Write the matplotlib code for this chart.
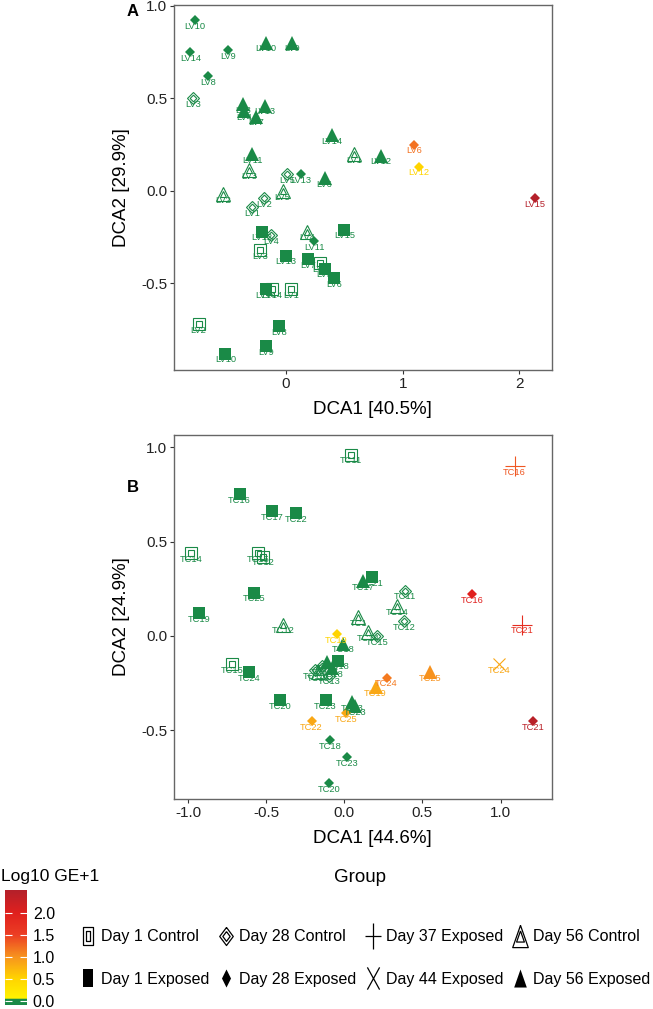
import numpy as np
import matplotlib
matplotlib.use('Agg')
from matplotlib import pyplot as plt
from matplotlib.colors import LinearSegmentedColormap, Normalize
from matplotlib.lines import Line2D
from matplotlib.path import Path
from matplotlib.legend_handler import HandlerTuple

plt.rcParams['font.family'] = ['Liberation Sans', 'DejaVu Sans']
plt.rcParams['axes.unicode_minus'] = False

# ---- panel A (LV samples) ----
a_lab = ['LV10', 'LV14', 'LV9', 'LV8', 'LV13', 'LV11', 'LV15', 'LV6', 'LV12',
         'LV10', 'LV9', 'LV3', 'LV4', 'LV7', 'LV13', 'LV14', 'LV11', 'LV12', 'LV6',
         'LV1', 'LV3', 'LV2', 'LV5', 'LV4',
         'LV3', 'LV5', 'LV2', 'LV1', 'LV4',
         'LV15', 'LV12', 'LV13', 'LV7', 'LV5', 'LV6', 'LV14', 'LV8', 'LV9', 'LV10',
         'LV3', 'LV4', 'LV14', 'LV1', 'LV2']
a_x = [-0.78, -0.82, -0.50, -0.67, 0.13, 0.24, 2.13, 1.10, 1.14,
       -0.17, 0.05, -0.37, -0.36, -0.26, -0.18, 0.39, -0.29, 0.81, 0.33,
       0.58, -0.32, -0.54, -0.03, 0.18,
       -0.80, 0.01, -0.19, -0.29, -0.13,
       0.50, -0.21, 0.00, 0.19, 0.33, 0.41, -0.17, -0.06, -0.17, -0.52,
       -0.22, 0.29, -0.12, 0.04, -0.75]
a_y = [0.92, 0.75, 0.76, 0.62, 0.09, -0.27, -0.04, 0.25, 0.13,
       0.80, 0.80, 0.47, 0.43, 0.40, 0.46, 0.30, 0.20, 0.19, 0.07,
       0.20, 0.11, -0.02, 0.00, -0.22,
       0.50, 0.09, -0.04, -0.09, -0.24,
       -0.21, -0.22, -0.35, -0.37, -0.42, -0.47, -0.53, -0.73, -0.84, -0.88,
       -0.32, -0.39, -0.53, -0.53, -0.72]
a_grp = ['D28E'] * 9 + ['D56E'] * 10 + ['D56C'] * 5 + ['D28C'] * 5 + ['D1E'] * 10 + ['D1C'] * 5
a_ge = [0, 0, 0, 0, 0, 0, 2.5, 1.2, 0.5] + [0] * 35

# ---- panel B (TC samples) ----
b_lab = ['TC16', 'TC17', 'TC22', 'TC21', 'TC25', 'TC19', 'TC24', 'TC18', 'TC23', 'TC20',
         'TC11', 'TC14', 'TC15', 'TC12', 'TC15',
         'TC17', 'TC18', 'TC14', 'TC18', 'TC13', 'TC23', 'TC19', 'TC25',
         'TC12', 'TC1', 'TC14', 'TC14', 'TC13',
         'TC11', 'TC12', 'TC15', 'TC13', 'TC13', 'TC14',
         'TC16', 'TC21', 'TC24', 'TC19', 'TC22', 'TC25', 'TC18', 'TC23', 'TC20',
         'TC16', 'TC21', 'TC24']
b_x = [-0.67, -0.46, -0.31, 0.18, -0.58, -0.93, -0.61, -0.04, -0.12, -0.41,
       0.04, -0.98, -0.55, -0.52, -0.72,
       0.12, -0.01, -0.11, -0.08, 0.05, 0.07, 0.20, 0.55,
       -0.39, 0.09, 0.15, 0.34, -0.17,
       0.39, 0.38, 0.21, -0.19, -0.10, -0.14,
       0.82, 1.21, 0.27, -0.05, -0.21, 0.01, -0.09, 0.02, -0.10,
       1.09, 1.14, 0.99]
b_y = [0.75, 0.66, 0.65, 0.31, 0.23, 0.12, -0.19, -0.13, -0.34, -0.34,
       0.96, 0.44, 0.44, 0.42, -0.15,
       0.29, -0.04, -0.14, -0.17, -0.35, -0.37, -0.27, -0.19,
       0.06, 0.10, 0.02, 0.16, -0.19,
       0.24, 0.08, 0.00, -0.18, -0.21, -0.16,
       0.22, -0.45, -0.22, 0.01, -0.45, -0.41, -0.55, -0.64, -0.78,
       0.90, 0.06, -0.15]
b_grp = (['D1E'] * 10 + ['D1C'] * 5 + ['D56E'] * 8 + ['D56C'] * 5 + ['D28C'] * 6
         + ['D28E'] * 9 + ['D37E'] * 2 + ['D44E'])
b_ge = ([0] * 21 + [0.85, 1.0] + [0] * 11
        + [2.0, 2.45, 1.15, 0.5, 0.85, 0.85, 0, 0, 0]
        + [1.35, 1.8, 0.85])

groups = ['D1C', 'D1E', 'D28C', 'D28E', 'D37E', 'D44E', 'D56C', 'D56E']
group_names = ['Day 1 Control', 'Day 1 Exposed', 'Day 28 Control', 'Day 28 Exposed',
               'Day 37 Exposed', 'Day 44 Exposed', 'Day 56 Control', 'Day 56 Exposed']

cb_ticks = [0.0, 0.5, 1.0, 1.5, 2.0]

GREEN = '#1A8A47'
vmin, vmax = -0.1, 2.53
stops = [(-0.1, GREEN), (0.03, GREEN), (0.05, '#FFF200'), (0.5, '#FFD400'),
         (1.0, '#F7931E'), (1.5, '#EC3F24'), (2.0, '#E0201E'), (2.53, '#B3202A')]
cmap = LinearSegmentedColormap.from_list(
    'ge', [((v - vmin) / (vmax - vmin), c) for v, c in stops])
norm = Normalize(vmin, vmax)

# marker: list of (marker, size pt, filled, lw)
STYLE = {
    'D1C': [('s', 8.6, False, 0.8), ('s', 4.2, False, 0.8)],
    'D1E': [('s', 8.4, True, 0)],
    'D28C': [('D', 6.6, False, 0.8), ('D', 3.4, False, 0.8)],
    'D28E': [('D', 5.2, True, 0)],
    'D37E': [('+', 14, False, 0.8)],
    'D44E': [('x', 9, False, 0.8)],
    'D56C': [('^', 10, False, 0.8), ('^', 5, False, 0.8)],
    'D56E': [('^', 9.5, True, 0)],
}

# taller shapes used in the legend keys
M, L = Path.MOVETO, Path.LINETO
rect = Path([(-0.5, -1), (0.5, -1), (0.5, 1), (-0.5, 1), (-0.5, -1)])
tri = Path([(0, 1), (-0.7, -1), (0.7, -1), (0, 1)])
dia = Path([(0, 1), (0.75, 0), (0, -1), (-0.75, 0), (0, 1)])
thin_dia = Path([(0, 1), (0.5, 0), (0, -1), (-0.5, 0), (0, 1)])
plus = Path([(-0.6, 0), (0.6, 0), (0, -1), (0, 1)], [M, L, M, L])
cross = Path([(-0.55, -1), (0.55, 1), (-0.55, 1), (0.55, -1)], [M, L, M, L])
LEG = {
    'D1C': [(rect, 13, False), (rect, 7, False)],
    'D1E': [(rect, 13, True)],
    'D28C': [(dia, 13, False), (dia, 7, False)],
    'D28E': [(thin_dia, 13, True)],
    'D37E': [(plus, 19, False)],
    'D44E': [(cross, 16, False)],
    'D56C': [(tri, 16, False), (tri, 8, False)],
    'D56E': [(tri, 13, True)],
}


def draw_panel(ax, labs, xs, ys, grps, ges):
    for lab, x, y, g, v in zip(labs, xs, ys, grps, ges):
        col = cmap(norm(v))
        for mk, ms, filled, lw in STYLE[g]:
            if filled:
                ax.plot(x, y, marker=mk, ms=ms, color=col, mec=col, mew=0, ls='none')
            else:
                ax.plot(x, y, marker=mk, ms=ms, mfc='none', mec=col, mew=lw, ls='none')
        ax.annotate(lab, (x, y), xytext=(0, -4.5), textcoords='offset points',
                    ha='center', va='center', fontsize=6.7, color=col)


def style_axes(ax, xlab, ylab):
    for s in ax.spines.values():
        s.set_color('#666666')
        s.set_linewidth(1.0)
    ax.tick_params(length=3, width=0.8, color='#333333', labelsize=11, pad=2,
                   labelcolor='#222222')
    ax.set_xlabel(xlab, fontsize=13.5)
    ax.set_ylabel(ylab, fontsize=13.5)
    ax.xaxis.set_label_coords(0.524, -0.085)
    ax.yaxis.set_label_coords(-0.117, 0.5)


fig = plt.figure(figsize=(6.53, 10.09), dpi=100)

axA = fig.add_axes([0.2665, 0.6333, 0.579, 0.362])
draw_panel(axA, a_lab, a_x, a_y, a_grp, a_ge)
axA.set_xlim(-0.96, 2.28)
axA.set_ylim(-0.968, 1.005)
axA.set_xticks([0, 1, 2])
axA.set_xticklabels(['0', '1', '2'])
axA.set_yticks([-0.5, 0.0, 0.5, 1.0])
style_axes(axA, 'DCA1 [40.5%]', 'DCA2 [29.9%]')
fig.text(133 / 653, 1 - 12 / 1009, 'A', fontsize=12, fontweight='bold',
         ha='center', va='center')

axB = fig.add_axes([0.2665, 0.208, 0.579, 0.361])
draw_panel(axB, b_lab, b_x, b_y, b_grp, b_ge)
axB.set_xlim(-1.09, 1.33)
axB.set_ylim(-0.864, 1.065)
axB.set_xticks([-1.0, -0.5, 0.0, 0.5, 1.0])
axB.set_yticks([-0.5, 0.0, 0.5, 1.0])
style_axes(axB, 'DCA1 [44.6%]', 'DCA2 [24.9%]')
fig.text(133 / 653, 1 - 487 / 1009, 'B', fontsize=12, fontweight='bold',
         ha='center', va='center')

# colour bar
cax = fig.add_axes([0.0077, 0.004, 0.034, 0.114])
sm = plt.cm.ScalarMappable(norm=norm, cmap=cmap)
cb = fig.colorbar(sm, cax=cax, ticks=cb_ticks)
cb.outline.set_visible(False)
cb.ax.tick_params(direction='in', color='white', length=5, width=0.8,
                  labelsize=11.5, pad=4, left=True)
cb.ax.set_yticklabels(['%.1f' % t for t in cb_ticks])
fig.text(0.002, 1 - 876 / 1009, 'Log10 GE+1', fontsize=12.5, ha='left', va='center')

# group legend
handles = []
for g in groups:
    parts = []
    for mk, ms, filled in LEG[g]:
        if filled:
            parts.append(Line2D([], [], marker=mk, ms=ms, color='black', mew=0, ls='none'))
        else:
            parts.append(Line2D([], [], marker=mk, ms=ms, mfc='none', mec='black',
                                mew=0.9, ls='none'))
    handles.append(tuple(parts) if len(parts) > 1 else parts[0])
fig.legend(handles, group_names, ncol=4, loc='center', bbox_to_anchor=(0.559, 0.0505),
           frameon=False, fontsize=11.5, handlelength=1.0, handletextpad=0.3,
           columnspacing=0.55, labelspacing=1.7, borderpad=0.2,
           handler_map={tuple: HandlerTuple(ndivide=1, pad=0)})
fig.text(0.551, 1 - 878 / 1009, 'Group', fontsize=13.5, ha='center', va='center')

fig.savefig('out.png', dpi=100)
